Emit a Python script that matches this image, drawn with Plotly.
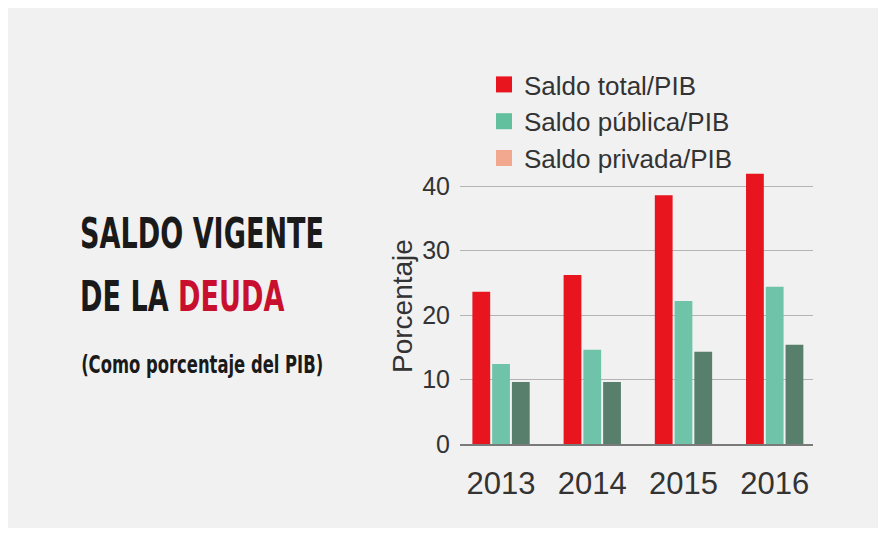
import plotly.graph_objects as go

years = ["2013", "2014", "2015", "2016"]
series_names = ["Saldo total/PIB", "Saldo pública/PIB", "Saldo privada/PIB"]
saldo_total = [23.6, 26.2, 38.6, 41.9]
saldo_publica = [12.4, 14.6, 22.2, 24.4]
saldo_privada = [9.6, 9.6, 14.3, 15.4]
y_ticks = [0, 10, 20, 30, 40]

bar_colors = ["#e8151f", "#6fc3a8", "#587f6c"]
legend_colors = ["#e8151f", "#62c09f", "#f2a78f"]

W, H = 883, 533
L, R, T, B = 460, 813, 170, 444
def px_x(x):
    return (x - L) / (R - L)
def px_y(y):
    return (B - y) / (B - T)

fig = go.Figure()
for name, vals, col in zip(series_names, [saldo_total, saldo_publica, saldo_privada], bar_colors):
    fig.add_trace(go.Bar(x=years, y=vals, name=name, marker=dict(color=col, line=dict(width=0)),
                         showlegend=False))
for name, col in zip(series_names, legend_colors):
    fig.add_trace(go.Scatter(x=[None], y=[None], mode="markers", name=name,
                             marker=dict(symbol="square", size=18, color=col)))

tick_font = dict(family="Liberation Sans, Arial, sans-serif", color="#333333")
cond = "DejaVu Sans Condensed, DejaVu Sans, sans-serif"

fig.update_layout(
    width=W, height=H,
    margin=dict(l=L, r=W - R, t=T, b=H - B, pad=0),
    paper_bgcolor="#ffffff",
    plot_bgcolor="rgba(0,0,0,0)",
    barmode="group", bargap=0.35, bargroupgap=0.1,
    showlegend=True,
    legend=dict(x=px_x(484), y=px_y(61), xanchor="left", yanchor="top",
                bgcolor="rgba(0,0,0,0)", font=dict(size=26, **tick_font),
                tracegroupgap=0),
    xaxis=dict(type="category", range=[-0.45, 3.42], showgrid=False, ticks="",
               showline=True, linecolor="#7a7a7a", linewidth=1.5,
               tickfont=dict(size=31, **tick_font), ticklabelstandoff=11),
    yaxis=dict(range=[0, 42.5], tickvals=y_ticks, showgrid=True, gridcolor="#b4b4b4",
               gridwidth=1.2, zeroline=False, ticks="",
               tickfont=dict(size=25, **tick_font), ticklabelstandoff=9),
    shapes=[dict(type="rect", xref="paper", yref="paper", layer="below",
                 x0=px_x(8), x1=px_x(878), y0=px_y(528), y1=px_y(8),
                 fillcolor="#f1f1f1", line=dict(width=0))],
    annotations=[
        dict(text="Porcentaje", textangle=-90, xref="paper", yref="paper",
             x=px_x(402), y=px_y(306), xanchor="center", yanchor="middle", showarrow=False,
             font=dict(size=28, **tick_font)),
        dict(text="<b>SALDO VIGENTE</b>", xref="paper", yref="paper",
             x=px_x(78), y=px_y(233), xanchor="left", yanchor="middle", showarrow=False,
             font=dict(size=43, family=cond, color="#1a1a1a")),
        dict(text="<b>DE LA <span style='color:#c8102e'>DEUDA</span></b>", xref="paper", yref="paper",
             x=px_x(78), y=px_y(296), xanchor="left", yanchor="middle", showarrow=False,
             font=dict(size=43, family=cond, color="#1a1a1a")),
        dict(text="<b>(Como porcentaje del PIB)</b>", xref="paper", yref="paper",
             x=px_x(79), y=px_y(365), xanchor="left", yanchor="middle", showarrow=False,
             font=dict(size=24, family=cond, color="#1a1a1a")),
    ],
)

post = """
document.body.style.margin = '0';
var scales = {1: 0.70, 2: 0.70, 3: 0.76};
var ann = document.querySelectorAll('.annotation-text');
for (var k in scales) {
  var el = ann[k];
  if (el) {
    el.style.transformBox = 'fill-box';
    el.style.transformOrigin = 'left center';
    el.style.transform = 'scaleX(' + scales[k] + ')';
  }
}
"""

fig.write_html("out.html", post_script=post, config={"displayModeBar": False})
